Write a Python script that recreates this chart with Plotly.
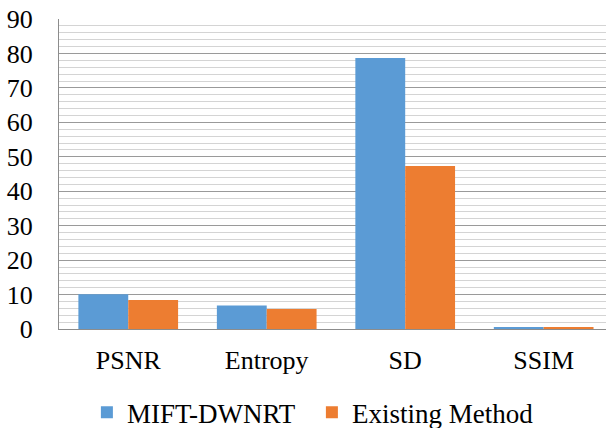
import plotly.graph_objects as go

categories = ["PSNR", "Entropy", "SD", "SSIM"]
mift_dwnrt = [10.1, 6.8, 78.7, 0.6]
existing_method = [8.4, 5.8, 47.3, 0.35]
series_names = ["MIFT-DWNRT", "Existing Method"]
y_ticks = [0, 10, 20, 30, 40, 50, 60, 70, 80, 90]

font_family = "Liberation Serif, Times New Roman, serif"
fsize = 26

fig = go.Figure()
fig.add_trace(go.Bar(name=series_names[0], x=categories, y=mift_dwnrt,
                     marker=dict(color="#5B9BD5", line=dict(width=0))))
fig.add_trace(go.Bar(name=series_names[1], x=categories, y=existing_method,
                     marker=dict(color="#ED7D31", line=dict(width=0))))

fig.update_layout(
    width=606, height=428,
    margin=dict(l=59, r=0, t=19, b=99, autoexpand=False),
    paper_bgcolor="white", plot_bgcolor="white",
    barmode="group", bargap=0.28, bargroupgap=0,
    font=dict(family=font_family, size=fsize, color="#000000"),
    showlegend=True,
    legend=dict(orientation="h", x=0.051, xanchor="left", y=-0.27, yanchor="middle",
                font=dict(family=font_family, size=27), itemwidth=30,
                entrywidth=180, entrywidthmode="pixels",
                traceorder="normal", tracegroupgap=0),
)
fig.update_xaxes(
    type="category", range=[-0.5, 3.45], automargin=False,
    showline=True, linecolor="#8c8c8c", linewidth=1,
    showgrid=False, ticks="", tickfont=dict(size=fsize), ticklabelstandoff=8,
)
fig.update_yaxes(
    range=[0, 90], tickvals=y_ticks, automargin=False,
    showline=True, linecolor="#8c8c8c", linewidth=1,
    showgrid=True, gridcolor="#9a9a9a", gridwidth=1,
    minor=dict(dtick=2, showgrid=True, gridcolor="#d4d4d4", gridwidth=1),
    ticks="", ticklabelstandoff=20, zeroline=False,
    tickfont=dict(size=fsize),
)

fig.write_html(
    "out.html",
    config={"displayModeBar": False},
    post_script="document.body.style.margin='0';document.body.style.overflow='hidden';",
)
